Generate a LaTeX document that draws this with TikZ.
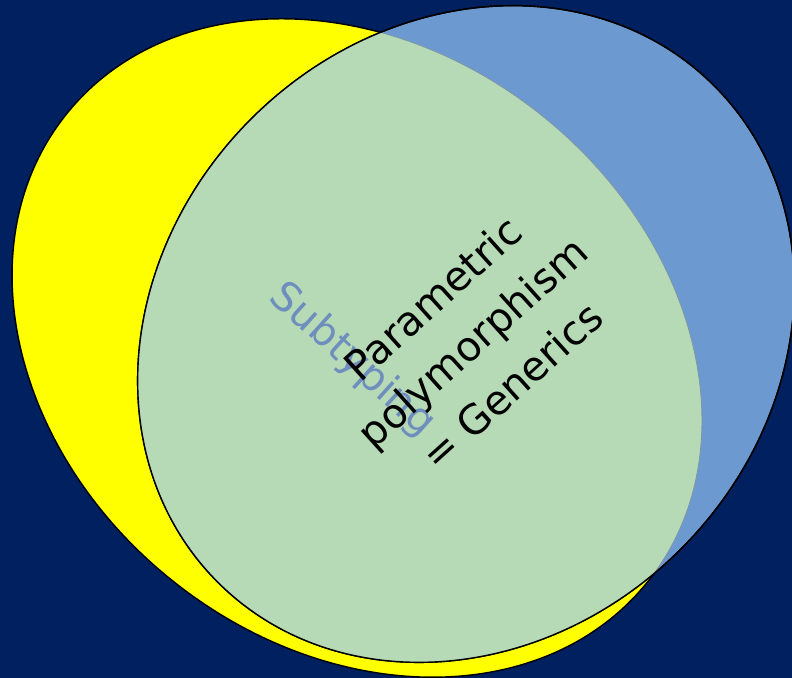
\documentclass[tikz,border=0pt]{standalone}
\usepackage{fontspec}
\setmainfont{DejaVu Sans}
\usepackage{tikz}
\usetikzlibrary{positioning}

\definecolor{navybg}{RGB}{0,32,96}
\definecolor{setyellow}{RGB}{255,255,0}
\definecolor{setblue}{RGB}{108,154,208}
\definecolor{setgreen}{RGB}{182,218,182}
\definecolor{subtypeblue}{RGB}{110,142,190}
\definecolor{edgegray}{RGB}{125,150,165}

\begin{document}
\begin{tikzpicture}[
    venn/.style={draw=black, line width=1pt, fill=#1},
    venn/.default={white},
    settext/.style={align=center, inner sep=0pt, font=\fontsize{29}{42}\selectfont}
]

\useasboundingbox (0,0) rectangle (19.8,16.95);
\fill[navybg] (0,0) rectangle (19.8,16.95);
\clip (0,0) rectangle (19.8,16.95);

% the two sets
\draw[venn=setyellow, rotate around={-39:(8.925,8.25)}] (8.925,8.25) ellipse [x radius=9.325, y radius=7.425];
\draw[venn=setblue, rotate around={45:(11.65,8.6)}] (11.65,8.6) ellipse [x radius=8.775, y radius=7.6];

% overlap
\begin{scope}
  \clip[rotate around={45:(11.65,8.6)}] (11.65,8.6) ellipse [x radius=8.775, y radius=7.6];
  \fill[setgreen, rotate around={-39:(8.925,8.25)}] (8.925,8.25) ellipse [x radius=9.325, y radius=7.425];
  \draw[edgegray, line width=0.6pt, rotate around={-39:(8.925,8.25)}] (8.925,8.25) ellipse [x radius=9.325, y radius=7.425];
\end{scope}
\draw[line width=1pt, rotate around={45:(11.65,8.6)}] (11.65,8.6) ellipse [x radius=8.775, y radius=7.6];

\node[settext, text=subtypeblue, rotate=-42] (subtyping) at (8.8,7.95) {Subtyping};
\node[settext, rotate=42] (generics) at (11.8,8.4) {Parametric\\polymorphism\\= Generics};

\end{tikzpicture}
\end{document}
